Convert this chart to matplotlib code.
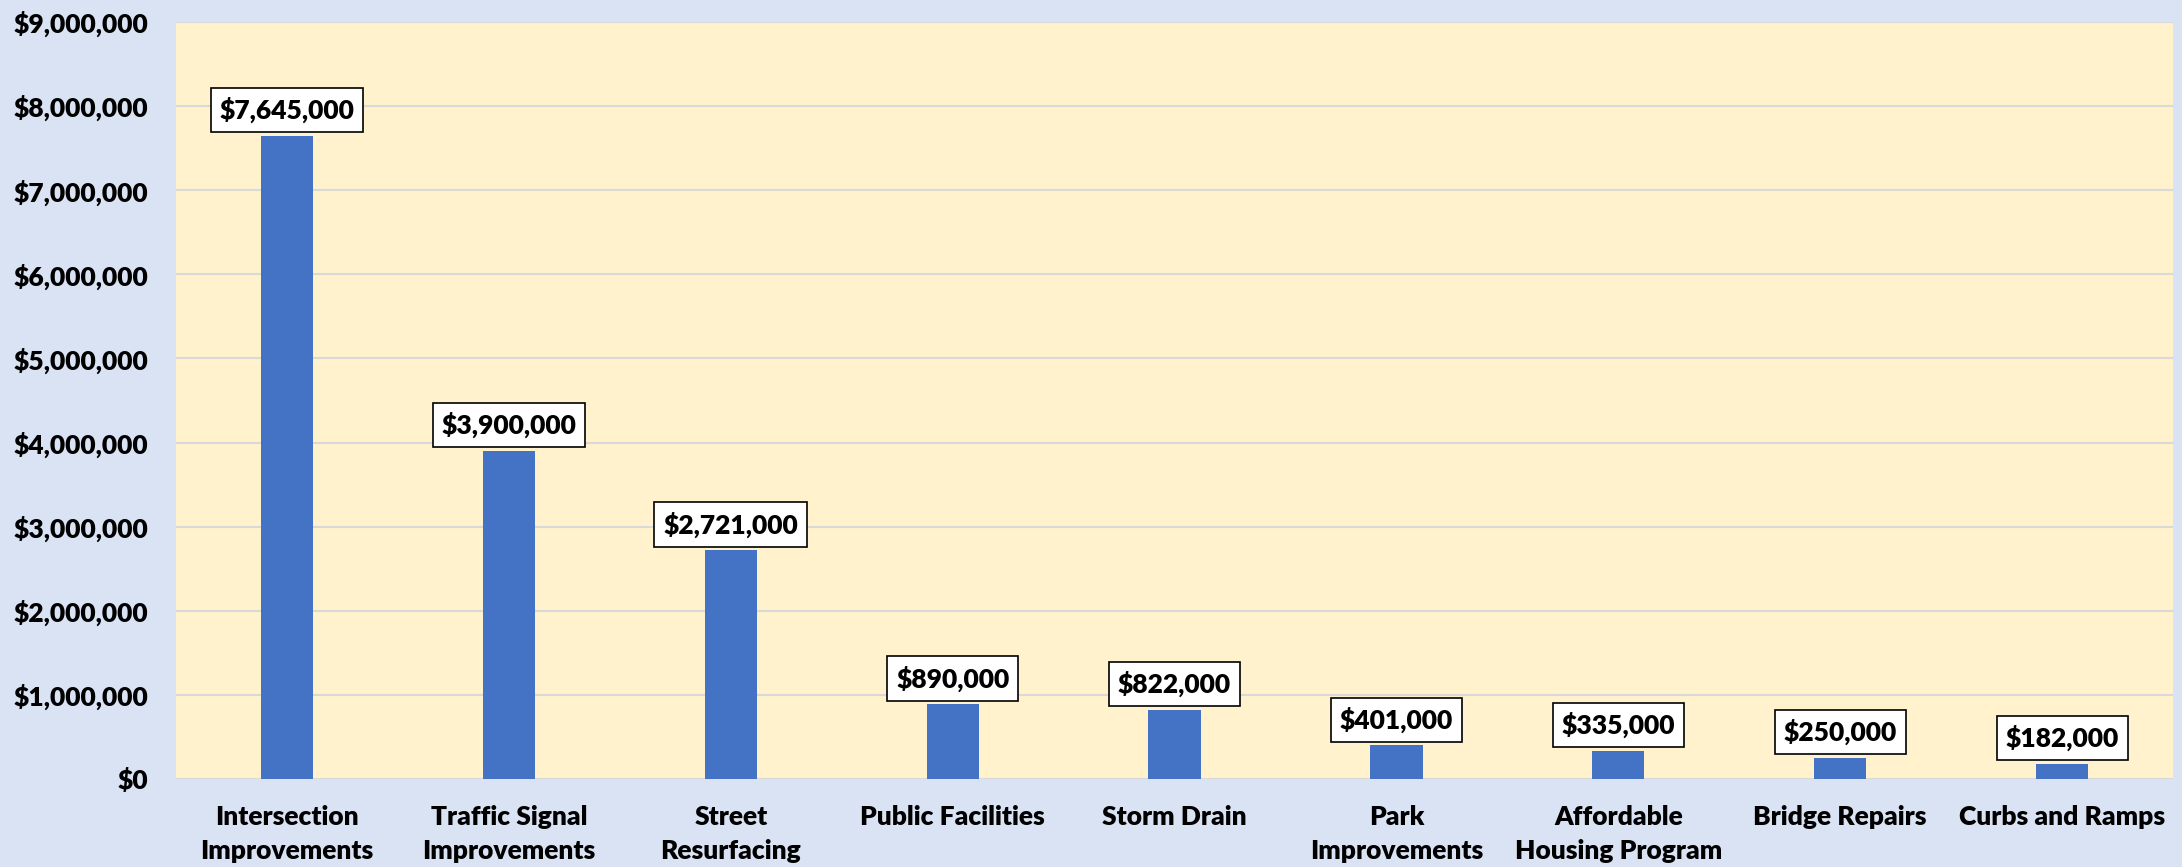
import matplotlib.pyplot as plt
import numpy as np

# project budget data
categories = ['Intersection\nImprovements', 'Traffic Signal\nImprovements', 'Street\nResurfacing',
              'Public Facilities', 'Storm Drain', 'Park\nImprovements',
              'Affordable\nHousing Program', 'Bridge Repairs', 'Curbs and Ramps']
amounts = [7645000, 3900000, 2721000, 890000, 822000, 401000, 335000, 250000, 182000]
yticks = [0, 1000000, 2000000, 3000000, 4000000, 5000000, 6000000, 7000000, 8000000, 9000000]

plt.rcParams['font.family'] = ['Lato', 'DejaVu Sans']
plt.rcParams['font.weight'] = 'heavy'

fig = plt.figure(figsize=(21.82, 8.67), dpi=100)
fig.patch.set_facecolor('#DAE3F3')
ax = fig.add_axes([0.0807, 0.1015, 0.9152, 0.8731])
ax.set_facecolor('#FFF2CC')

x = np.arange(len(categories))
ax.bar(x, amounts, width=0.235, color='#4472C4', zorder=3)

for xi, v in zip(x, amounts):
    ax.annotate('${:,.0f}'.format(v), (xi, v), xytext=(0, 9), textcoords='offset points',
                ha='center', va='bottom', fontsize=19, fontweight='heavy',
                bbox=dict(boxstyle='square,pad=0.34', fc='white', ec='black', lw=1.2), zorder=5)

ax.set_xlim(-0.5, len(categories) - 0.5)
ax.set_ylim(0, 9000000)
ax.set_yticks(yticks)
ax.set_yticklabels(['${:,.0f}'.format(t) for t in yticks])
ax.set_xticks(x)
ax.set_xticklabels(categories, linespacing=1.5)
ax.grid(axis='y', color='#D9D9D9', lw=1.5, zorder=0)
for s in ax.spines.values():
    s.set_visible(False)
ax.tick_params(axis='both', length=0, labelsize=19)
ax.tick_params(axis='y', pad=20)
ax.tick_params(axis='x', pad=19)

plt.savefig('out.png', dpi=100, facecolor=fig.get_facecolor())
